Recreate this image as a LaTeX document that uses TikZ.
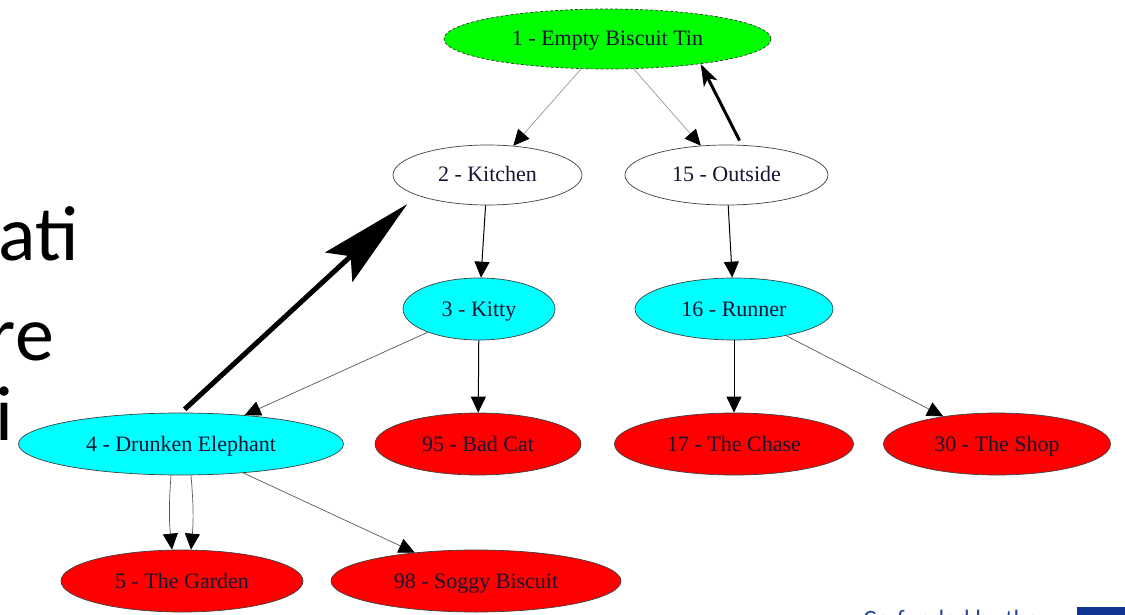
\documentclass[tikz,border=0pt]{standalone}
\usepackage{fontspec}
\setmainfont{Liberation Serif}
\newfontfamily\slidefont{Carlito}
\usetikzlibrary{shapes.geometric,arrows.meta}
\definecolor{gvgreen}{RGB}{0,255,0}
\definecolor{gvcyan}{RGB}{0,255,255}
\definecolor{gvred}{RGB}{255,0,0}
\definecolor{gvtext}{RGB}{25,20,50}
\definecolor{eublue}{RGB}{16,52,148}
\definecolor{cofund}{RGB}{40,70,150}
\begin{document}
\begin{tikzpicture}[x=1pt,y=-1pt,
  gv/.style={ellipse, draw=black!75, line width=0.7pt, inner sep=0pt,
    font=\fontsize{22}{24}\selectfont, text=gvtext, minimum height=62pt,
    text height=17pt, text depth=3pt},
  gvtop/.style={gv, draw=black!80, densely dashed, minimum height=60pt},
  tri/.style={-{Triangle[length=16pt,width=15pt,color=black]}},
  lightedge/.style={tri, draw=black!40, line width=0.7pt},
  grayedge/.style={tri, draw=black!65, line width=0.7pt},
  blackedge/.style={tri, draw=black, line width=1pt},
  slidetext/.style={font=\slidefont\fontsize{78}{80}\selectfont, inner sep=0pt, anchor=base east},
]
\useasboundingbox (0,0) rectangle (1125,615);
\clip (0,0) rectangle (1125,615);
\fill[white] (0,0) rectangle (1125,615);

% slide text fragments
\node[slidetext] (sa) at (79,260) {ati};
\node[slidetext] (sb) at (54,360) {re};
\node[slidetext] (sc) at (14,440) {i};
\node[font=\slidefont\fontsize{25}{27}\selectfont, text=cofund, inner sep=0pt, anchor=base west] (cf) at (863,627) {Co-funded by the};
\fill[eublue] (1077,607) rectangle (1125,615);

% nodes
\node[gvtop, fill=gvgreen, minimum width=327pt] (n1) at (607.5,39) {1 - Empty Biscuit Tin};
\node[gv, fill=white, minimum width=189pt, minimum height=60pt] (n2) at (487.5,175) {2 - Kitchen};
\node[gv, fill=white, minimum width=203pt, minimum height=60pt] (n15) at (726.5,175) {15 - Outside};
\node[gv, fill=gvcyan, minimum width=152pt] (n3) at (479,309) {3 - Kitty};
\node[gv, fill=gvcyan, minimum width=198pt] (n16) at (734,309) {16 - Runner};
\node[gv, fill=gvcyan, minimum width=325pt] (n4) at (181,444) {4 - Drunken Elephant};
\node[gv, fill=gvred, minimum width=206pt] (n95) at (478,444) {95 - Bad Cat};
\node[gv, fill=gvred, minimum width=239pt] (n17) at (734,444) {17 - The Chase};
\node[gv, fill=gvred, minimum width=227pt] (n30) at (997,444) {30 - The Shop};
\node[gv, fill=gvred, minimum width=242pt] (n5) at (182,581) {5 - The Garden};
\node[gv, fill=gvred, minimum width=290pt] (n98) at (476,581) {98 - Soggy Biscuit};

% edges
\draw[lightedge] (n1) -- (n2);
\draw[lightedge] (n1) -- (n15);
\draw[blackedge] (n2) -- (n3);
\draw[blackedge] (n15) -- (n16);
\draw[grayedge] (n3) -- (n4);
\draw[blackedge] (n3) -- (n95);
\draw[blackedge] (n16) -- (n17);
\draw[grayedge] (n16) -- (n30);
\draw[grayedge] (n4) -- (n98);
\draw[grayedge] ([xshift=-10pt]n4.south) to[bend right=5] ([xshift=-10pt]n5.north);
\draw[grayedge] ([xshift=10pt]n4.south) to[bend left=5] ([xshift=9pt]n5.north);

% thick back edges
\draw[line width=3pt, -{Stealth[length=22pt,width=15pt,inset=6pt]}, shorten <=5pt] (n15.63) -- (n1.-15);
\draw[line width=5pt, -{Stealth[length=93pt,width=40pt,inset=16pt]}, shorten <=5pt, shorten >=13pt] (n4.north) -- (n2.-164);
\end{tikzpicture}
\end{document}
